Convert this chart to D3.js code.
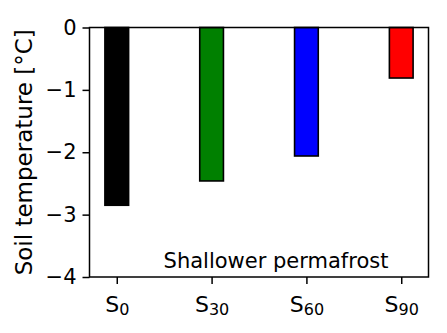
<!DOCTYPE html>
<html>
<head>
<meta charset="utf-8">
<script src="https://cdn.jsdelivr.net/npm/d3@7"></script>
<style>
  html, body { margin: 0; padding: 0; background: #fff; }
  svg { display: block; font-family: "DejaVu Sans", sans-serif; }
</style>
</head>
<body>
<svg id="chart" width="447" height="333"></svg>
<script>
const categories = ["0", "30", "60", "90"];
const values = [-2.85, -2.46, -2.06, -0.81];
const colors = ["#000000", "#008000", "#0000ff", "#ff0000"];
const yTicks = [0, -1, -2, -3, -4];
const yLabel = "Soil temperature [°C]";
const note = "Shallower permafrost";

const W = 447, H = 333;
const m = { left: 89.5, right: 18.5, top: 27.5, bottom: 56 };
const svg = d3.select("#chart");
const barW = 0.25;
const n = categories.length;
const span = (n - 1) + barW;
const pad = 0.05 * span;

const x = d3.scaleLinear()
  .domain([-barW / 2 - pad, (n - 1) + barW / 2 + pad])
  .range([m.left, W - m.right]);
const y = d3.scaleLinear().domain([-4, 0]).range([H - m.bottom, m.top]);

const tickLen = 7;

// bars
svg.append("g").selectAll("rect").data(values).join("rect")
  .attr("x", (d, i) => x(i - barW / 2))
  .attr("width", (d, i) => x(i + barW / 2) - x(i - barW / 2))
  .attr("y", d => y(0))
  .attr("height", d => y(d) - y(0))
  .attr("fill", (d, i) => colors[i])
  .attr("stroke", "#000")
  .attr("stroke-width", 1.6);

// y axis
const yAxis = svg.append("g")
  .attr("transform", `translate(${m.left},0)`)
  .call(d3.axisLeft(y).tickValues(yTicks).tickSize(tickLen).tickPadding(6)
    .tickFormat(d => d === 0 ? "0" : "\u2212" + Math.abs(d)));
yAxis.select(".domain").remove();
yAxis.selectAll("line").attr("stroke", "#000").attr("stroke-width", 1.5);
yAxis.selectAll("text").attr("font-size", 21).attr("font-family", "DejaVu Sans").attr("fill", "#000");

// x axis
const xAxis = svg.append("g")
  .attr("transform", `translate(0,${H - m.bottom})`)
  .call(d3.axisBottom(x).tickValues(d3.range(n)).tickSize(tickLen)
    .tickFormat(() => ""));
xAxis.select(".domain").remove();
xAxis.selectAll("line").attr("stroke", "#000").attr("stroke-width", 1.5);
xAxis.selectAll(".tick").each(function (d, i) {
  const t = d3.select(this).select("text")
    .attr("font-size", 22).attr("font-family", "DejaVu Sans").attr("fill", "#000")
    .attr("dy", null).attr("y", 35);
  t.text(null);
  t.append("tspan").text("S");
  t.append("tspan").attr("font-size", 16).attr("dy", 3).text(categories[i]);
});

// frame
svg.append("rect")
  .attr("x", m.left).attr("y", m.top)
  .attr("width", W - m.right - m.left).attr("height", H - m.bottom - m.top)
  .attr("fill", "none").attr("stroke", "#000").attr("stroke-width", 1.5);

// y label
svg.append("text")
  .attr("transform", `translate(32,${(m.top + H - m.bottom) / 2}) rotate(-90)`)
  .attr("text-anchor", "middle")
  .attr("font-size", 23)
  .attr("fill", "#000")
  .text(yLabel);

// annotation
svg.append("text")
  .attr("x", 276)
  .attr("y", 268)
  .attr("text-anchor", "middle")
  .attr("font-size", 21)
  .attr("fill", "#000")
  .text(note);
</script>
</body>
</html>
